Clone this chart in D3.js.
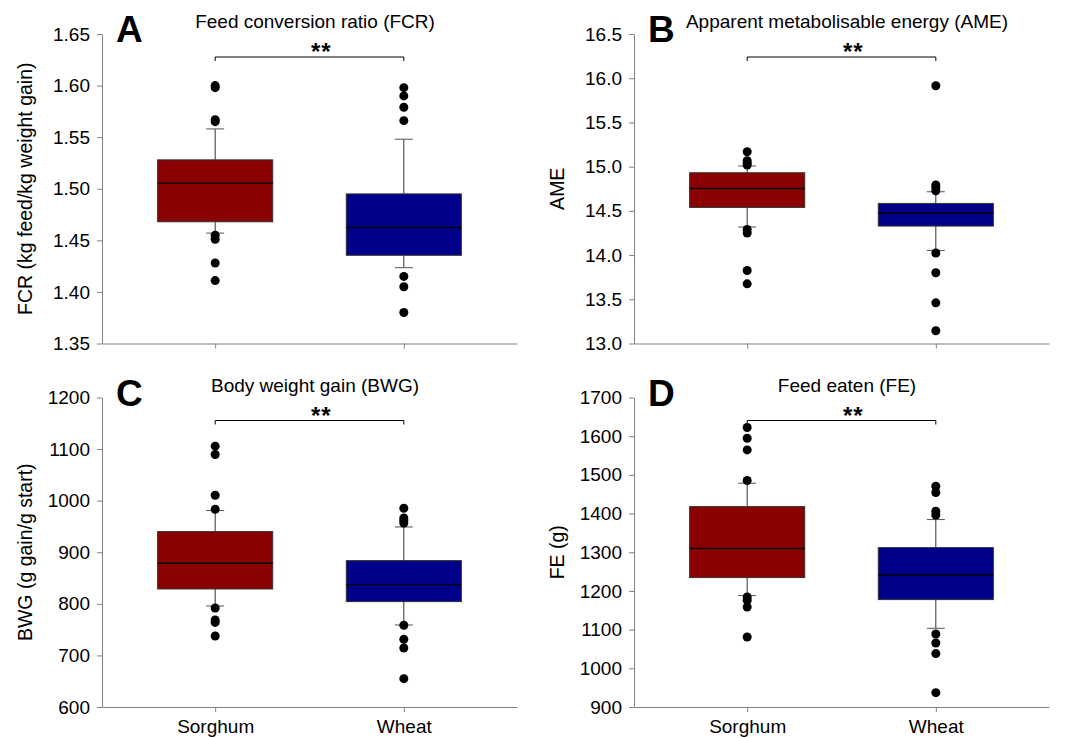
<!DOCTYPE html>
<html>
<head>
<meta charset="utf-8">
<script src="https://cdn.jsdelivr.net/npm/d3@7"></script>
<style>
  body { margin: 0; background: #fff; }
  svg { font-family: Arial, "Liberation Sans", sans-serif; }
  .axis path, .axis line { stroke: #808080; }
  .axis text { fill: #000; font-size: 19px; }
</style>
</head>
<body>
<div id="chart"></div>
<script>
// groups on the x axis
const categories = ["Sorghum", "Wheat"];
const boxColors = ["#8B0000", "#00008B"];

// box stats per group: [lower whisker, Q1, median, Q3, upper whisker]
const fcrBox = [[1.457, 1.468, 1.5055, 1.528, 1.558], [1.4235, 1.4355, 1.4625, 1.495, 1.548]];
const fcrOut = [[1.600, 1.598, 1.567, 1.565, 1.455, 1.451, 1.428, 1.411], [1.598, 1.590, 1.579, 1.566, 1.415, 1.405, 1.380]];
const fcrTicks = [1.35, 1.40, 1.45, 1.50, 1.55, 1.60, 1.65];

const ameBox = [[14.317, 14.539, 14.753, 14.931, 15.007], [14.052, 14.328, 14.475, 14.584, 14.716]];
const ameOut = [[15.169, 15.067, 15.04, 15.018, 14.29, 14.25, 13.826, 13.675], [15.915, 14.792, 14.765, 14.727, 14.023, 13.80, 13.46, 13.144]];
const ameTicks = [13.0, 13.5, 14.0, 14.5, 15.0, 15.5, 16.0, 16.5];

const bwgBox = [[795.8, 828.8, 878.6, 940, 980.8], [759, 804.3, 837.3, 883.8, 949]];
const bwgOut = [[1105.7, 1089.4, 1010.5, 983.4, 792, 768.7, 764, 737.6], [985.3, 966.5, 961.5, 956.8, 758.4, 731.2, 714.4, 655]];
const bwgTicks = [600, 700, 800, 900, 1000, 1100, 1200];

const feBox = [[1188, 1234.5, 1309.5, 1418, 1478.4], [1103.4, 1177.6, 1241.3, 1312, 1384.5]];
const feOut = [[1622.4, 1594.8, 1564.5, 1485.4, 1184.4, 1175.8, 1158.5, 1081], [1470.6, 1454.3, 1406, 1396.4, 1088.7, 1065.4, 1038, 937]];
const feTicks = [900, 1000, 1100, 1200, 1300, 1400, 1500, 1600, 1700];

const panels = [
  { letter: "A", title: "Feed conversion ratio (FCR)", ylabel: "FCR (kg feed/kg weight gain)", box: fcrBox, out: fcrOut, ticks: fcrTicks, fmt: ".2f", left: 102, top: 34, showCats: false },
  { letter: "B", title: "Apparent metabolisable energy (AME)", ylabel: "AME", box: ameBox, out: ameOut, ticks: ameTicks, fmt: ".1f", left: 634, top: 34, showCats: false },
  { letter: "C", title: "Body weight gain (BWG)", ylabel: "BWG (g gain/g start)", box: bwgBox, out: bwgOut, ticks: bwgTicks, fmt: "d", left: 102, top: 397.5, showCats: true },
  { letter: "D", title: "Feed eaten (FE)", ylabel: "FE (g)", box: feBox, out: feOut, ticks: feTicks, fmt: "d", left: 634, top: 397.5, showCats: true }
];

const width = 1075, height = 738;
const plotW = 415, plotH = 309.5;

const svg = d3.select("#chart").append("svg")
    .attr("width", width)
    .attr("height", height);

panels.forEach(p => {
    const g = svg.append("g").attr("transform", `translate(${p.left},${p.top})`);

    const x = d3.scalePoint().domain(categories).range([0, plotW]).padding(0.6);
    const y = d3.scaleLinear().domain(d3.extent(p.ticks)).range([plotH, 0]);
    const boxW = x.step() * 0.61;
    const capW = 18;

    // axes
    g.append("g").attr("class", "axis")
        .call(d3.axisLeft(y).tickValues(p.ticks).tickFormat(d3.format(p.fmt)).tickSize(5).tickSizeOuter(0).tickPadding(7));
    const xa = g.append("g").attr("class", "axis")
        .attr("transform", `translate(0,${plotH})`)
        .call(d3.axisBottom(x).tickSize(5).tickSizeOuter(0).tickPadding(8));
    if (!p.showCats) xa.selectAll("text").remove();

    // boxes
    categories.forEach((c, i) => {
        const [lo, q1, med, q3, hi] = p.box[i];
        const cx = x(c);

        g.append("line")
            .attr("x1", cx).attr("x2", cx)
            .attr("y1", y(q3)).attr("y2", y(hi))
            .attr("stroke", "#333");
        g.append("line")
            .attr("x1", cx).attr("x2", cx)
            .attr("y1", y(q1)).attr("y2", y(lo))
            .attr("stroke", "#333");
        [lo, hi].forEach(v => {
            g.append("line")
                .attr("x1", cx - capW / 2).attr("x2", cx + capW / 2)
                .attr("y1", y(v)).attr("y2", y(v))
                .attr("stroke", "#555");
        });

        g.append("rect")
            .attr("x", cx - boxW / 2)
            .attr("y", y(q3))
            .attr("width", boxW)
            .attr("height", y(q1) - y(q3))
            .attr("fill", boxColors[i])
            .attr("stroke", "#333");
        g.append("line")
            .attr("x1", cx - boxW / 2).attr("x2", cx + boxW / 2)
            .attr("y1", y(med)).attr("y2", y(med))
            .attr("stroke", "#000")
            .attr("stroke-width", 1.4);

        g.selectAll(null)
            .data(p.out[i])
            .enter().append("circle")
            .attr("cx", cx)
            .attr("cy", d => y(d))
            .attr("r", 4.5)
            .attr("fill", "#000");
    });

    // significance bracket
    const by = 23;
    const x0 = x(categories[0]), x1 = x(categories[1]);
    g.append("path")
        .attr("d", `M${x0},${by + 4}V${by}H${x1}V${by + 4}`)
        .attr("fill", "none")
        .attr("stroke", "#000");
    g.append("text")
        .attr("x", (x0 + x1) / 2 + 1.5)
        .attr("y", by + 3)
        .style("font-size", "24px")
        .style("font-weight", "bold")
        .style("letter-spacing", "1px")
        .text("**");

    // title, panel letter, y label
    g.append("text")
        .attr("x", 213)
        .attr("y", -6)
        .attr("text-anchor", "middle")
        .style("font-size", "19px")
        .text(p.title);
    g.append("text")
        .attr("x", 14)
        .attr("y", 8)
        .style("font-size", "37px")
        .style("font-weight", "bold")
        .text(p.letter);
    g.append("text")
        .attr("transform", `translate(-77,${plotH / 2}) rotate(-90)`)
        .attr("text-anchor", "middle")
        .attr("dy", "0.35em")
        .style("font-size", "19.5px")
        .text(p.ylabel);
});
</script>
</body>
</html>
